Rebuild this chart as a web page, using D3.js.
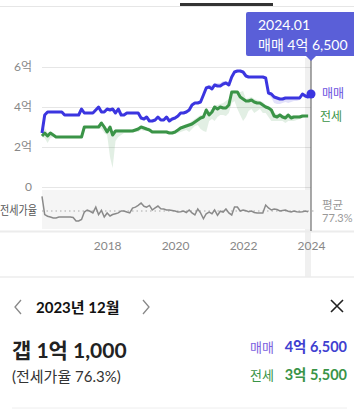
<!DOCTYPE html>
<html>
<head>
<meta charset="utf-8">
<script src="https://cdn.jsdelivr.net/npm/d3@7"></script>
<style>
  body { margin: 0; background: #fff; }
  svg { display: block; font-family: Lato, 'Noto Sans CJK KR', sans-serif; }
</style>
</head>
<body>
<div id="chart"></div>
<script>
// monthly, 2016-02 .. 2024-01 (억 원)
const sale = [
  2.7, 3.6, 3.75, 3.75, 3.75, 3.75, 3.75, 3.75, 3.6, 3.6,
  3.6, 3.6, 3.6, 3.6, 3.9, 3.7, 3.7, 3.7, 3.7, 3.85,
  4.0, 3.75, 3.75, 3.9, 3.85, 3.9, 3.7, 3.9, 3.6, 3.6,
  3.7, 3.7, 3.7, 3.7, 3.7, 3.45, 3.4, 3.5, 3.3, 3.3,
  3.35, 3.5, 3.35, 3.35, 3.5, 3.3, 3.4, 3.45, 3.55, 3.7,
  3.7, 3.75, 3.85, 4.1, 4.2, 4.2, 4.25, 4.6, 4.95, 5.0,
  4.9, 5.1, 5.05, 5.05, 5.15, 5.2, 5.1, 5.5, 5.75, 5.8,
  5.8, 5.75, 5.55, 5.5, 5.5, 5.5, 5.5, 5.5, 5.5, 5.45,
  4.7, 4.65, 4.5, 4.45, 4.4, 4.4, 4.45, 4.45, 4.45, 4.45,
  4.45, 4.45, 4.65, 4.55, 4.5, 4.65
];
const saleHigh = [
  2.8, 3.7, 3.8, 3.8, 3.8, 3.8, 3.8, 3.8, 3.65, 3.65,
  3.65, 3.65, 3.65, 3.65, 3.95, 3.75, 3.75, 3.75, 3.75, 3.9,
  4.05, 3.8, 3.8, 3.95, 3.9, 3.95, 3.75, 3.95, 3.65, 3.65,
  3.75, 3.75, 3.75, 3.75, 3.75, 3.5, 3.45, 3.55, 3.35, 3.35,
  3.4, 3.55, 3.4, 3.4, 3.55, 3.35, 3.45, 3.5, 3.6, 3.75,
  3.75, 3.8, 3.9, 4.15, 4.25, 4.3, 4.35, 4.7, 5.05, 5.1,
  5.1, 5.2, 5.2, 5.2, 5.3, 5.3, 5.25, 5.55, 5.8, 5.85,
  5.85, 5.8, 5.6, 5.55, 5.55, 5.55, 5.55, 5.55, 5.55, 5.5,
  4.75, 4.7, 4.6, 4.5, 4.45, 4.45, 4.5, 4.5, 4.5, 4.5,
  4.5, 4.5, 4.7, 4.65, 4.6, 4.7
];
const saleLow = [
  2.6, 3.5, 3.7, 3.7, 3.7, 3.7, 3.7, 3.7, 3.55, 3.55,
  3.55, 3.55, 3.55, 3.55, 3.85, 3.65, 3.65, 3.65, 3.65, 3.8,
  3.95, 3.7, 3.7, 3.85, 3.8, 3.85, 3.65, 3.85, 3.55, 3.55,
  3.65, 3.65, 3.65, 3.65, 3.65, 3.4, 3.35, 3.45, 3.25, 3.25,
  3.3, 3.45, 3.3, 3.3, 3.45, 3.25, 3.35, 3.4, 3.5, 3.65,
  3.65, 3.7, 3.8, 4.05, 4.15, 4.15, 4.2, 4.55, 4.9, 4.95,
  4.85, 5.05, 5.0, 5.0, 5.1, 5.15, 5.05, 5.45, 5.7, 5.75,
  5.75, 5.7, 5.5, 5.45, 5.45, 5.45, 5.45, 5.45, 5.45, 5.4,
  4.6, 4.45, 4.2, 4.15, 4.15, 4.2, 4.25, 4.2, 4.25, 4.3,
  4.3, 4.35, 4.55, 4.45, 4.45, 4.6
];
// 2016-02 .. 2023-12
const jeonse = [
  2.55, 2.7, 2.55, 2.7, 2.6, 2.5, 2.5, 2.5, 2.5, 2.5,
  2.5, 2.5, 2.5, 2.5, 2.5, 3.0, 3.0, 3.0, 3.0, 3.0,
  3.0, 3.2, 3.0, 2.75, 3.0, 2.6, 2.8, 2.8, 2.8, 2.8,
  2.8, 2.8, 2.8, 2.85, 2.9, 3.0, 2.95, 2.9, 2.85, 2.75,
  2.75, 2.75, 2.75, 2.75, 2.75, 2.7, 2.7, 2.75, 2.85, 2.95,
  3.0, 3.05, 3.1, 3.15, 3.25, 3.35, 3.45, 3.5, 3.85, 3.6,
  3.75, 4.0, 3.9, 4.0, 3.95, 3.95, 4.1, 4.75, 4.75, 4.75,
  4.5, 4.4, 4.3, 4.3, 4.35, 4.25, 4.2, 4.2, 4.1, 4.0,
  3.95, 3.85, 3.55, 3.5, 3.6, 3.5, 3.45, 3.6, 3.45, 3.5,
  3.5, 3.5, 3.55, 3.55, 3.55
];
const jeonseLow = [
  2.5, 2.45, 2.2, 2.45, 2.5, 2.45, 2.45, 2.45, 2.45, 2.45,
  2.45, 2.45, 2.45, 2.45, 2.45, 2.9, 2.95, 2.95, 2.95, 2.95,
  2.95, 2.9, 2.7, 2.6, 1.5, 0.95, 2.3, 2.5, 2.6, 2.7,
  2.7, 2.7, 2.75, 2.75, 2.75, 2.85, 2.8, 2.8, 2.8, 2.7,
  2.7, 2.7, 2.7, 2.7, 2.7, 2.65, 2.65, 2.65, 2.7, 2.75,
  2.8, 2.85, 2.75, 2.9, 3.05, 3.1, 2.9, 2.8, 2.75, 3.3,
  3.4, 3.3, 3.5, 3.6, 3.6, 3.55, 3.7, 4.2, 4.3, 3.9,
  3.6, 3.3, 3.5, 3.8, 3.9, 3.7, 3.8, 3.9, 3.7, 3.7,
  3.5, 3.3, 3.3, 3.3, 3.3, 3.3, 3.2, 3.3, 3.3, 3.3,
  3.35, 3.4, 3.45, 3.5, 3.5
];
const jeonseHigh = [
  2.6, 2.95, 2.7, 2.75, 2.65, 2.55, 2.55, 2.55, 2.55, 2.55,
  2.55, 2.55, 2.55, 2.55, 2.55, 3.05, 3.05, 3.05, 3.05, 3.05,
  3.05, 3.25, 3.1, 2.85, 3.05, 2.75, 2.9, 2.9, 2.9, 2.9,
  2.9, 2.9, 2.9, 2.9, 2.95, 3.05, 3.0, 3.0, 2.95, 2.85,
  2.85, 2.85, 2.85, 2.85, 2.85, 2.8, 2.8, 2.8, 2.9, 3.0,
  3.1, 3.15, 3.2, 3.3, 3.4, 3.5, 3.6, 3.6, 3.95, 3.8,
  3.9, 4.1, 4.1, 4.15, 4.2, 4.3, 4.4, 4.8, 4.85, 4.8,
  4.75, 4.8, 4.4, 4.45, 4.5, 4.4, 4.35, 4.3, 4.25, 4.1,
  4.05, 3.95, 3.7, 3.65, 3.7, 3.6, 3.6, 3.7, 3.6, 3.6,
  3.6, 3.6, 3.6, 3.6, 3.6
];
// 전세가율 (%)
const ratio = [
  95, 73, 71, 70, 69, 69, 70, 70, 70, 70,
  70, 69.5, 65.3, 65.3, 67, 76, 78.5, 77, 75, 82,
  73, 78, 70, 74.9, 71.3, 73, 74, 75, 77.3, 77.3,
  76, 75, 80.9, 82, 84, 86.9, 83, 82, 84, 78.5,
  81, 83.3, 80, 79.7, 78.5, 78.5, 78, 77.3, 76.1, 76.5,
  77.3, 75.5, 78.5, 75, 72.5, 79.7, 75, 68, 74, 76,
  74, 78.5, 72, 77, 76, 79.7, 75, 72.5, 82, 82,
  77.3, 78.5, 77.5, 76.5, 77.3, 75.5, 75, 74.9, 75, 84.5,
  81, 78.5, 79.7, 79, 77.3, 78, 78.5, 77, 76, 77.3,
  76.5, 76, 76.5, 77.3, 76.3
];
const ratioAvg = 77.3;

const yTicks = [0, 2, 4, 6];
const yTickLabels = ['0', '2억', '4억', '6억'];
const xTickYears = [2018, 2020, 2022, 2024];

const tipDate = '2024.01';
const tipText = '매매 4억 6,500';
const selMonth = '2023년 12월';
const gapText = '갭 1억 1,000';
const rateText = '(전세가율 76.3%)';
const saleText = '4억 6,500';
const jeonseText = '3억 5,500';

const width = 354, height = 417;
const months = d3.timeMonth.range(new Date(2016, 1, 1), new Date(2024, 1, 1));

const BLUE = '#3b35e0', GREEN = '#3a9447';

const svg = d3.select('#chart').append('svg')
  .attr('width', width).attr('height', height);

const x = d3.scaleTime().domain([months[0], months[months.length - 1]]).range([42, 311]);
const y = d3.scaleLinear().domain([0, 6]).range([187, 67]);
const yR = d3.scaleLinear().domain([55.6, 102.6]).range([229, 190]);

// top tab bar
svg.append('line').attr('x1', 0).attr('x2', width).attr('y1', 6.5).attr('y2', 6.5)
  .attr('stroke', '#e6e6e6');
svg.append('rect').attr('x', 180).attr('y', 3).attr('width', 93).attr('height', 3).attr('fill', '#333');

// y grid + labels
const yAxis = svg.append('g').attr('transform', 'translate(42,0)')
  .call(d3.axisLeft(y).tickValues(yTicks).tickSize(-269).tickPadding(10)
    .tickFormat((d, i) => yTickLabels[i]));
yAxis.select('.domain').remove();
yAxis.selectAll('.tick line').attr('stroke', '#e6e6e6');
yAxis.selectAll('.tick text').attr('fill', '#888').style('font-size', '12px')
  .style('font-family', "Lato, 'Noto Sans CJK KR', sans-serif");

// hover band
svg.append('rect').attr('x', 305).attr('y', 58).attr('width', 6).attr('height', 219)
  .attr('fill', '#000').attr('opacity', 0.06);

// ranges
const band = d3.area().x((d, i) => x(months[i])).y0(d => y(d[0])).y1(d => y(d[1]));
svg.append('path').datum(d3.zip(jeonseLow, jeonseHigh)).attr('d', band)
  .attr('fill', GREEN).attr('opacity', 0.15);
svg.append('path').datum(d3.zip(saleLow, saleHigh)).attr('d', band)
  .attr('fill', BLUE).attr('opacity', 0.15);

const line = d3.line().x((d, i) => x(months[i])).y(d => y(d));
svg.append('path').datum(jeonse).attr('d', line)
  .attr('fill', 'none').attr('stroke', GREEN).attr('stroke-width', 3)
  .attr('stroke-linejoin', 'round');
svg.append('path').datum(sale).attr('d', line)
  .attr('fill', 'none').attr('stroke', BLUE).attr('stroke-width', 3)
  .attr('stroke-linejoin', 'round');

// ratio panel
svg.append('rect').attr('x', 42).attr('y', 190).attr('width', 269).attr('height', 39).attr('fill', '#f5f5f5');
svg.append('line').attr('x1', 42).attr('x2', 316)
  .attr('y1', yR(ratioAvg)).attr('y2', yR(ratioAvg))
  .attr('stroke', '#aaa').attr('stroke-width', 1.2).attr('stroke-dasharray', '1.5,3');
svg.append('path').datum(ratio)
  .attr('d', d3.line().x((d, i) => x(months[i])).y(d => yR(d)))
  .attr('fill', 'none').attr('stroke', '#8a8a8a').attr('stroke-width', 1.5);

svg.append('text').attr('x', 0).attr('y', yR(ratioAvg) + 4)
  .attr('textLength', 37).attr('lengthAdjust', 'spacingAndGlyphs')
  .attr('fill', '#555').style('font-size', '12px').text('전세가율');
svg.append('text').attr('x', 322).attr('y', 209).attr('fill', '#999').style('font-size', '11.5px').text('평균');
svg.append('text').attr('x', 322).attr('y', 222).attr('fill', '#999').style('font-size', '11px').text(ratioAvg + '%');

// separators
svg.append('line').attr('x1', 0).attr('x2', width).attr('y1', 231.5).attr('y2', 231.5)
  .attr('stroke', '#ececec').attr('stroke-width', 2);
svg.append('line').attr('x1', 0).attr('x2', width).attr('y1', 277).attr('y2', 277)
  .attr('stroke', '#ececec').attr('stroke-width', 1.5);

// x axis
const xAxis = svg.append('g').attr('transform', 'translate(0,236)')
  .call(d3.axisBottom(x).tickValues(xTickYears.map(v => new Date(v, 0, 1)))
    .tickSize(0).tickPadding(5).tickFormat(d3.timeFormat('%Y')));
xAxis.select('.domain').remove();
xAxis.selectAll('.tick text').attr('fill', '#888').style('font-size', '12px')
  .style('font-family', "Lato, 'Noto Sans CJK KR', sans-serif");

// cursor line + dot
const lastI = sale.length - 1;
const cx = x(months[lastI]);
svg.append('line').attr('x1', cx).attr('x2', cx).attr('y1', 56).attr('y2', 231)
  .attr('stroke', '#555').attr('stroke-width', 1);
svg.append('circle').attr('cx', cx).attr('cy', y(sale[lastI])).attr('r', 4.5).attr('fill', BLUE);

svg.append('text').attr('x', 322).attr('y', y(sale[lastI]) + 4).attr('fill', '#6a4fe0')
  .style('font-size', '12px').text('매매');
svg.append('text').attr('x', 320).attr('y', y(jeonse[jeonse.length - 1]) + 5).attr('fill', GREEN)
  .style('font-size', '12px').text('전세');

// tooltip
svg.append('rect').attr('x', 246).attr('y', 12).attr('width', 120).attr('height', 44).attr('rx', 2)
  .attr('fill', '#5a5fd8');
svg.append('path').attr('d', `M${cx - 5},56 L${cx},61 L${cx + 5},56 Z`).attr('fill', '#5a5fd8');
svg.append('text').attr('x', 258).attr('y', 30).attr('fill', '#fff').style('font-size', '14px').text(tipDate);
svg.append('text').attr('x', 258).attr('y', 50).attr('fill', '#fff').style('font-size', '14px').text(tipText);

// bottom summary
svg.append('path').attr('d', 'M21,300 L15,307 L21,314').attr('fill', 'none')
  .attr('stroke', '#888').attr('stroke-width', 1.3);
svg.append('path').attr('d', 'M143,300 L149,307 L143,314').attr('fill', 'none')
  .attr('stroke', '#888').attr('stroke-width', 1.3);
svg.append('text').attr('x', 36).attr('y', 313).attr('fill', '#111')
  .style('font-size', '15px').style('font-weight', 700).text(selMonth);
svg.append('path').attr('d', 'M331,300 L343,312 M343,300 L331,312').attr('fill', 'none')
  .attr('stroke', '#222').attr('stroke-width', 1.6);

svg.append('text').attr('x', 12).attr('y', 358).attr('fill', '#222')
  .style('font-size', '21px').style('font-weight', 700).text(gapText);
svg.append('text').attr('x', 12).attr('y', 382).attr('fill', '#333')
  .style('font-size', '15px').text(rateText);

svg.append('text').attr('x', 250).attr('y', 352).attr('fill', '#7b5fe0')
  .style('font-size', '13px').text('매매');
svg.append('text').attr('x', 347).attr('y', 352).attr('text-anchor', 'end').attr('fill', '#4040d0')
  .style('font-size', '14.5px').style('font-weight', 700).text(saleText);
svg.append('text').attr('x', 250).attr('y', 380).attr('fill', GREEN)
  .style('font-size', '13px').text('전세');
svg.append('text').attr('x', 347).attr('y', 380).attr('text-anchor', 'end').attr('fill', GREEN)
  .style('font-size', '14.5px').style('font-weight', 700).text(jeonseText);

svg.append('line').attr('x1', 12).attr('x2', 347).attr('y1', 408).attr('y2', 408)
  .attr('stroke', '#eee');
</script>
</body>
</html>
